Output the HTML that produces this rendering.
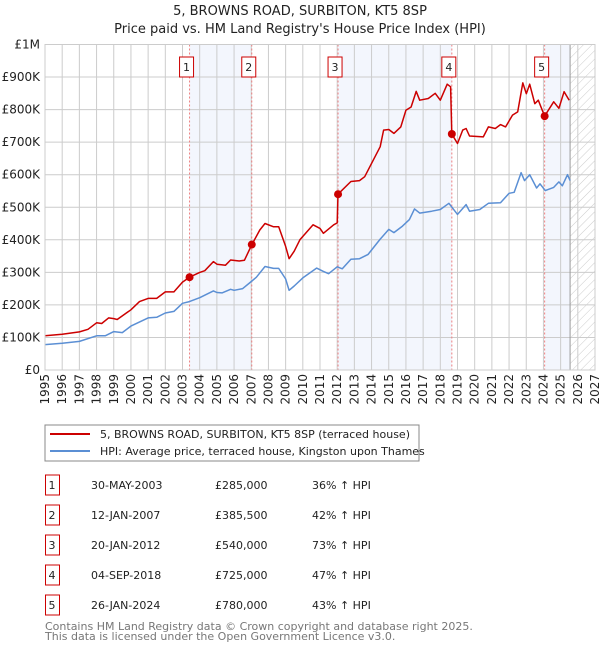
<!DOCTYPE html>
<html><head><meta charset="utf-8"><style>
body{margin:0;background:#fff;font-family:"DejaVu Sans","Liberation Sans",sans-serif;}
svg text{font-family:"DejaVu Sans","Liberation Sans",sans-serif;}
</style></head><body>
<svg id="c" width="600" height="650" xmlns="http://www.w3.org/2000/svg">
<defs><pattern id="hatch" width="6" height="6" patternUnits="userSpaceOnUse" patternTransform="rotate(45)"><line x1="0" y1="0" x2="0" y2="6" stroke="#ccc" stroke-width="1"/></pattern></defs>
<text x="300" y="15" text-anchor="middle" font-size="13" fill="#222">5, BROWNS ROAD, SURBITON, KT5 8SP</text>
<text x="300" y="33" text-anchor="middle" font-size="13" fill="#222">Price paid vs. HM Land Registry's House Price Index (HPI)</text>
<g id="plot"></g>
<g>
<rect x="45" y="425" width="374" height="36" fill="#fff" stroke="#888"/>
<line x1="50" y1="434" x2="90" y2="434" stroke="#cc0000" stroke-width="2"/>
<text x="100" y="438" font-size="11" fill="#222">5, BROWNS ROAD, SURBITON, KT5 8SP (terraced house)</text>
<line x1="50" y1="451" x2="90" y2="451" stroke="#5b8fd4" stroke-width="2"/>
<text x="100" y="455" font-size="11" fill="#222">HPI: Average price, terraced house, Kingston upon Thames</text>
</g>
<g id="table"></g>
<text x="45" y="630" font-size="11" fill="#777">Contains HM Land Registry data © Crown copyright and database right 2025.</text>
<text x="45" y="640" font-size="11" fill="#777">This data is licensed under the Open Government Licence v3.0.</text>
</svg>
<script>
const yearTicks=[1995,1996,1997,1998,1999,2000,2001,2002,2003,2004,2005,2006,2007,2008,2009,2010,2011,2012,2013,2014,2015,2016,2017,2018,2019,2020,2021,2022,2023,2024,2025,2026,2027];
const valueTicks=[0,100000,200000,300000,400000,500000,600000,700000,800000,900000,1000000];
const valueTickLabels=["£0","£100K","£200K","£300K","£400K","£500K","£600K","£700K","£800K","£900K","£1M"];
const hpiYears=[1995,1996,1997,1998,1998.5,1999,1999.5,2000,2001,2001.5,2002,2002.5,2003,2003.4,2004,2004.8,2005,2005.3,2005.8,2006,2006.5,2007,2007.3,2007.8,2008.3,2008.6,2009,2009.2,2009.5,2010,2010.8,2011.2,2011.5,2012,2012.3,2012.8,2013.3,2013.8,2014.5,2015,2015.3,2015.8,2016.2,2016.5,2016.8,2017.5,2018,2018.5,2019,2019.5,2019.7,2020.3,2020.8,2021.5,2022,2022.3,2022.7,2022.9,2023.2,2023.6,2023.8,2024.1,2024.6,2024.9,2025.1,2025.4,2025.55];
const hpiValues=[78,82,88,105,105,118,115,135,160,162,175,180,205,210,222,243,238,237,248,245,250,272,285,318,312,312,280,245,258,283,313,303,296,317,311,340,342,355,402,432,422,442,462,495,482,488,493,512,478,508,488,493,512,514,543,546,606,582,600,559,572,551,561,578,566,600,582];
const priceYears=[1995,1996,1997,1997.5,1998,1998.3,1998.7,1999,1999.2,2000,2000.5,2001,2001.5,2002,2002.5,2003,2003.41,2004,2004.3,2004.8,2005,2005.5,2005.8,2006.3,2006.6,2007.03,2007.5,2007.8,2008.3,2008.6,2009,2009.2,2009.5,2009.83,2010.6,2011,2011.2,2011.8,2012.0,2012.05,2012.8,2013.3,2013.6,2014.5,2014.7,2015,2015.3,2015.7,2016,2016.3,2016.6,2016.8,2017.3,2017.7,2018,2018.4,2018.6,2018.67,2019,2019.3,2019.5,2019.7,2020.5,2020.8,2021.2,2021.5,2021.8,2022.2,2022.5,2022.8,2023,2023.2,2023.5,2023.7,2024.07,2024.6,2024.9,2025.2,2025.5];
const priceValues=[105,110,117,125,145,143,160,158,155,185,210,220,220,240,240,270,285,300,305,333,325,322,338,335,337,385,430,450,440,440,380,342,365,400,446,435,420,446,452,540,579,582,594,686,737,739,727,747,798,808,856,829,834,850,829,878,870,725,696,737,742,719,716,747,742,754,747,783,793,882,849,878,818,829,780,824,804,855,829];
const saleIds=["1","2","3","4","5"];
const saleYears=[2003.41,2007.03,2012.05,2018.67,2024.07];
const salePrices=[285000,385500,540000,725000,780000];
const saleDates=["30-MAY-2003","12-JAN-2007","20-JAN-2012","04-SEP-2018","26-JAN-2024"];
const salePriceLabels=["£285,000","£385,500","£540,000","£725,000","£780,000"];
const saleHpi=["36% ↑ HPI","42% ↑ HPI","73% ↑ HPI","47% ↑ HPI","43% ↑ HPI"];
const nowYear=2025.55;

const L=45,R=595,T=44.5,B=370,Y0=1995,Y1=2027;
const xs=y=>L+(y-Y0)/(Y1-Y0)*(R-L);
const ys=v=>B-v/1000000*(B-T);
const NS="http://www.w3.org/2000/svg";
const g=document.getElementById('plot');
function mk(t,a,p){const e=document.createElementNS(NS,t);for(const k in a)e.setAttribute(k,a[k]);(p||g).appendChild(e);return e;}

const spans=[[0,1],[2,3],[4,-1]];
spans.forEach((s,i)=>{
 const x0=xs(saleYears[s[0]]),x1=s[1]<0?xs(nowYear):xs(saleYears[s[1]]);
 const r=mk('rect',{x:x0,y:T,width:x1-x0,height:B-T,fill:'#f3f6fd'});
 
 
});
const hr=mk('rect',{x:xs(nowYear),y:T,width:R-xs(nowYear),height:B-T,fill:'url(#hatch)'});


yearTicks.forEach(y=>{
 const l=mk('line',{x1:xs(y),x2:xs(y),y1:T,y2:B,stroke:'#ccc','stroke-width':1});
 
 
 const t=mk('text',{x:0,y:0,'font-size':12,fill:'#222','text-anchor':'end',transform:`translate(${xs(y)+4},${B+4}) rotate(-90)`});
 t.textContent=y;
 
 
});
valueTicks.forEach((v,i)=>{
 const l=mk('line',{x1:L,x2:R,y1:ys(v),y2:ys(v),stroke:'#ccc','stroke-width':1});
 
 
 const t=mk('text',{x:40,y:ys(v)+4,'font-size':12,fill:'#222','text-anchor':'end'});
 t.textContent=valueTickLabels[i];
 
 
});
const nl=mk('line',{x1:xs(nowYear),x2:xs(nowYear),y1:T,y2:B,stroke:'#999','stroke-width':1});


saleYears.forEach((y,i)=>{
 const x=xs(y);
 const l=mk('line',{x1:x,x2:x,y1:T,y2:B,stroke:'#ee8080','stroke-width':1,'stroke-dasharray':'2,2'});
 
 
 const r=mk('rect',{x:x-10,y:57,width:14,height:20,fill:'#fff',stroke:'#cc0000'});
 
 
 const t=mk('text',{x:x-3,y:71,'font-size':11,fill:'#222','text-anchor':'middle'});
 t.textContent=saleIds[i];
 
 
});
function line(xsA,vs,col,name){
 const d=xsA.map((y,i)=>(i?'L':'M')+xs(y).toFixed(1)+','+ys(vs[i]*1000).toFixed(1)).join('');
 const p=mk('path',{d:d,fill:'none',stroke:col,'stroke-width':1.5,'stroke-linejoin':'round'});
 
 
}
line(hpiYears,hpiValues,'#5b8fd4','hpi-line');
line(priceYears,priceValues,'#cc0000','price-line');
saleYears.forEach((y,i)=>{
 const c=mk('circle',{cx:xs(y),cy:ys(salePrices[i]),r:4,fill:'#cc0000'});
 
 
});
const fr=mk('rect',{x:L,y:T,width:R-L,height:B-T,fill:'none',stroke:'#ccc'});


const tg=document.getElementById('table');
saleIds.forEach((id,i)=>{
 const y0=475+i*30;
 const r=mk('rect',{x:45.5,y:y0,width:14,height:20,fill:'#fff',stroke:'#cc0000'},tg);
 
 
 const cells=[[52,id,'middle'],[91,saleDates[i],'start'],[215,salePriceLabels[i],'start'],[312,saleHpi[i],'start']];
 cells.forEach(c=>{
  const t=mk('text',{x:c[0],y:y0+14,'font-size':11,fill:'#222','text-anchor':c[2]},tg);
  t.textContent=c[1];
  
  
 });
});
</script>
</body></html>
